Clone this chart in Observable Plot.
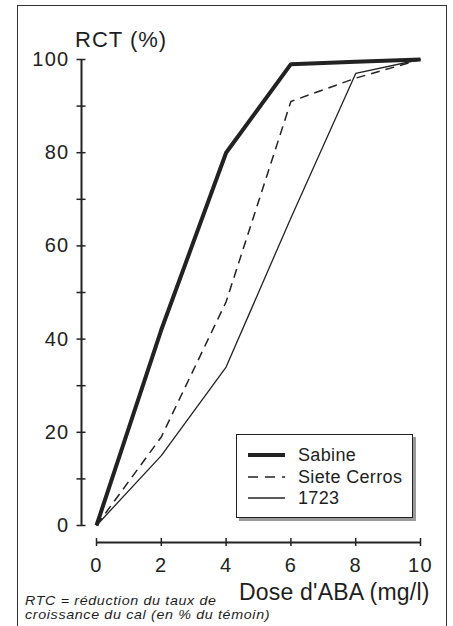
<!DOCTYPE html>
<html><head><meta charset="utf-8">
<script src="https://cdn.jsdelivr.net/npm/d3@7"></script>
<script src="https://cdn.jsdelivr.net/npm/@observablehq/plot@0.6"></script>
<style>
html,body{margin:0;padding:0;background:#fff}
body{width:453px;height:626px;overflow:hidden;position:relative;font-family:"Liberation Sans",Arial,sans-serif;color:#1e1e1e}
#frame{position:absolute;left:17px;top:5px;width:430px;height:680px;border:1.5px solid #333;box-sizing:border-box}
#chart{position:absolute;left:0;top:0}
#chart svg text{letter-spacing:1.3px}
.lbl{position:absolute;white-space:nowrap;line-height:1}
#ytitle{left:75px;top:29px;font-size:22px;letter-spacing:1px}
#xtitle{left:239px;top:581px;font-size:23px;letter-spacing:0.2px}
#caption{left:25px;top:594px;font-size:13.5px;font-style:italic;letter-spacing:0.6px;line-height:13.5px;transform:scaleX(1.06);transform-origin:0 0}
#legend{position:absolute;left:236px;top:434px;width:177px;height:84px;border:1.5px solid #222;box-sizing:border-box;background:#fff;box-shadow:3px 3px 0 #9a9a9a}
.row{position:absolute;left:0;height:20px;display:flex;align-items:center}
.row svg{margin-left:11px;margin-right:13px}
.row span{font-size:18px;letter-spacing:0.35px}
</style>
</head><body>
<div id="frame"></div>
<div id="chart"></div>
<div id="ytitle" class="lbl">RCT (%)</div>
<div id="xtitle" class="lbl">Dose d'ABA (mg/l)</div>
<div id="caption" class="lbl">RTC = réduction du taux de<br>croissance du cal (en % du témoin)</div>
<div id="legend"></div>
<script>
const doses = [0, 2, 4, 6, 8, 10];
const sabine = [0, 42, 80, 99, 99.5, 100];
const sieteCerros = [0, 19, 48, 91, 96, 100];
const line1723 = [0, 15, 34, 66, 97, 100];
const seriesNames = ["Sabine", "Siete Cerros", "1723"];
const xTicks = [0, 2, 4, 6, 8, 10];
const yTicksMajor = [0, 20, 40, 60, 80, 100];
const yTicksMinor = [0, 10, 20, 30, 40, 50, 60, 70, 80, 90, 100];

const seriesValues = [sabine, sieteCerros, line1723];
const widths = [4, 1.5, 1.3];
const dashes = [null, "9,6", null];
const ink = "#222";

const rows = [];
seriesNames.forEach((name, i) => doses.forEach((d, j) => rows.push({series: name, dose: d, rct: seriesValues[i][j]})));

const lineMarks = seriesNames.map((name, i) =>
  Plot.line(rows.filter(r => r.series === name), {
    x: "dose", y: "rct", stroke: ink, strokeWidth: widths[i],
    strokeDasharray: dashes[i], strokeLinejoin: "miter", strokeLinecap: "butt"
  })
);

const chart = Plot.plot({
  width: 453, height: 626,
  marginLeft: 96, marginRight: 33, marginTop: 59, marginBottom: 101,
  style: {fontFamily: "'Liberation Sans', Arial, sans-serif", fontSize: "20px", color: ink, background: "transparent"},
  x: {domain: [0, 10]},
  y: {domain: [0, 100]},
  marks: [
    // y axis line (offset left), spans the full frame height = 0..100
    Plot.ruleX([0], {dx: -15, stroke: ink, strokeWidth: 2}),
    Plot.axisY({ticks: yTicksMinor, tickSize: 9, dx: -10.5, tickFormat: () => "", label: null, stroke: ink, strokeWidth: 1.5}),
    Plot.axisY({ticks: yTicksMajor, tickSize: 0, tickPadding: 27, label: null, fill: ink}),
    // x axis line (offset down), spans the full frame width = 0..10
    Plot.ruleY([0], {dy: 17, stroke: ink, strokeWidth: 2}),
    Plot.axisX({ticks: xTicks, tickSize: 8, dy: 13, tickFormat: () => "", label: null, stroke: ink, strokeWidth: 1.5}),
    Plot.axisX({ticks: xTicks, tickSize: 0, tickPadding: 32, label: null, fill: ink}),
    ...lineMarks
  ]
});
document.getElementById("chart").appendChild(chart);

// legend
const legend = document.getElementById("legend");
const rowTops = [10, 32, 53];
seriesNames.forEach((name, i) => {
  const row = document.createElement("div");
  row.className = "row";
  row.style.top = rowTops[i] + "px";
  row.innerHTML = `<svg width="37" height="10"><line x1="0" x2="37" y1="5" y2="5" stroke="${ink}" stroke-width="${widths[i]}" ${dashes[i] ? `stroke-dasharray="10,7"` : ""}/></svg><span>${name}</span>`;
  legend.appendChild(row);
});
</script>
</body></html>
